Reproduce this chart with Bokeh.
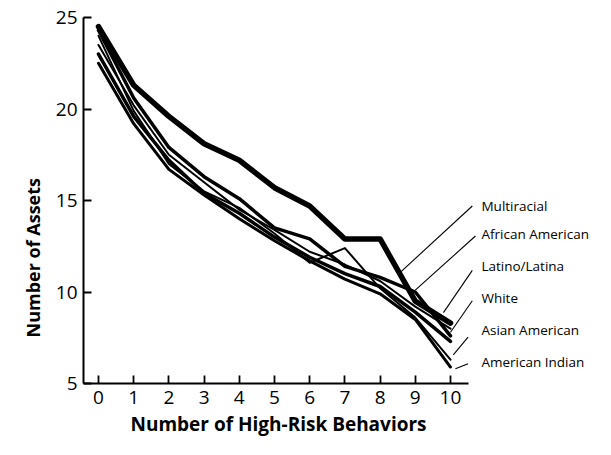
from bokeh.plotting import figure
from bokeh.models import Range1d, FixedTicker, Title
from bokeh.core.properties import value
from bokeh.embed import file_html
from bokeh.resources import INLINE

behaviors = [0, 1, 2, 3, 4, 5, 6, 7, 8, 9, 10]
groups = ["Multiracial", "African American", "Latino/Latina", "White", "Asian American", "American Indian"]
multiracial = [24.5, 21.3, 19.6, 18.1, 17.2, 15.7, 14.7, 12.9, 12.9, 9.5, 8.3]
african_american = [24.3, 20.6, 17.9, 16.3, 15.1, 13.5, 12.9, 11.4, 10.8, 10.0, 7.6]
latino = [23.5, 20.2, 17.5, 16.0, 14.5, 13.4, 12.2, 11.5, 10.6, 9.2, 8.0]
white = [23.0, 19.6, 17.2, 15.4, 14.3, 13.0, 11.9, 11.0, 10.3, 8.9, 7.3]
asian_american = [24.0, 19.9, 17.0, 15.5, 14.6, 13.2, 11.6, 12.4, 10.2, 8.6, 6.3]
american_indian = [22.5, 19.2, 16.7, 15.3, 14.0, 12.8, 11.7, 10.7, 9.9, 8.5, 5.9]
series = [multiracial, african_american, latino, white, asian_american, american_indian]
widths = [5.5, 3.5, 2.0, 3.5, 2.0, 3.0]

y_ticks = [5, 10, 15, 20, 25]

# label positions (data coords) and leader-line endpoints on the curves
label_x = 10.88
label_y = [14.68, 13.17, 11.4, 9.68, 7.9, 6.18]
leader_start = [(10.62, 14.7), (10.71, 13.06), (10.62, 11.18), (10.62, 9.52), (10.5, 7.53), (10.5, 6.08)]
leader_end = [(8.55, 11.03), (9.0, 10.1), (9.8, 8.87), (10.0, 7.8), (10.08, 6.56), (10.14, 5.8)]

p = figure(width=595, height=439, output_backend="svg", toolbar_location=None,
           x_range=Range1d(-0.426, 14.12), y_range=Range1d(5, 25),
           min_border_left=83, min_border_right=0, min_border_top=17, min_border_bottom=55)
p.outline_line_color = None
p.grid.visible = False
p.background_fill_color = "white"
p.border_fill_color = "white"

for ys, w in zip(series, widths):
    p.line(behaviors, ys, line_color="black", line_width=w, line_join="round", line_cap="round")

p.segment(x0=[s[0] for s in leader_start], y0=[s[1] for s in leader_start],
          x1=[e[0] for e in leader_end], y1=[e[1] for e in leader_end],
          line_color="black", line_width=1.1)

p.text(x=[label_x] * len(groups), y=label_y, text=groups, text_font=value("Open Sans"),
       text_font_size="13.5px", text_baseline="middle", text_align="left", text_color="black")

p.xaxis.bounds = (-0.426, 10.5)
p.xaxis.ticker = FixedTicker(ticks=behaviors)
p.yaxis.ticker = FixedTicker(ticks=y_ticks)
for ax in (p.xaxis, p.yaxis):
    ax.major_tick_in = 8
    ax.major_tick_out = 0
    ax.minor_tick_line_color = None
    ax.axis_line_width = 2
    ax.major_tick_line_width = 1.8
    ax.major_label_text_font = "Open Sans"
    ax.major_label_text_font_size = "19px"
    ax.major_label_text_color = "black"
    ax.axis_line_color = "black"
    ax.major_tick_line_color = "black"
p.xaxis.major_label_standoff = 7
p.yaxis.major_label_standoff = 6

x_title = Title(text="Number of High-Risk Behaviors", text_font="Open Sans",
                text_font_size="19px", text_font_style="bold", align="left", offset=47,
                text_color="black", standoff=5)
y_title = Title(text="Number of Assets", text_font="Open Sans",
                text_font_size="18px", text_font_style="bold", align="left", offset=46,
                text_color="black", standoff=16)
p.add_layout(x_title, "below")
p.add_layout(y_title, "left")

open("out.html", "w").write(file_html(p, INLINE))
